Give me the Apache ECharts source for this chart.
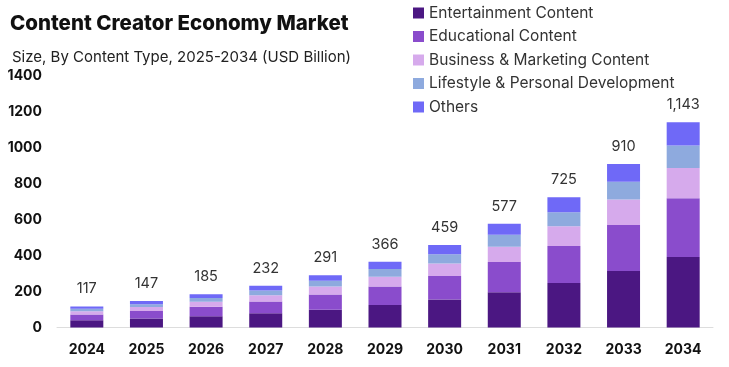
<!DOCTYPE html>
<html>
<head>
<meta charset="utf-8">
<script src="https://cdn.jsdelivr.net/npm/echarts@6/dist/echarts.min.js"></script>
<style>html,body{margin:0;padding:0;background:#fff}#c{width:729px;height:367px}</style>
</head>
<body>
<div id="c"></div>
<script>
var years = ['2024','2025','2026','2027','2028','2029','2030','2031','2032','2033','2034'];
var entertainment = [40, 50, 63, 79, 99, 125, 156, 196, 248, 314, 393];
var educational   = [33, 42, 53, 66, 85, 103, 131, 169, 205, 257, 327];
var business      = [18, 22, 28, 35, 44, 55, 69, 85, 111, 141, 168];
var lifestyle     = [13, 16, 20, 26, 32, 42, 52, 66, 77, 100, 125];
var others        = [13, 17, 21, 26, 31, 41, 51, 61, 84, 98, 130];
var totals        = [117, 147, 185, 232, 291, 366, 459, 577, 725, 910, 1143];
var seriesNames = ['Entertainment Content','Educational Content','Business & Marketing Content','Lifestyle & Personal Development','Others'];
var colors = ['#4b1782','#8a4ccc','#d6aaec','#8eaade','#6f69f7'];

var chart = echarts.init(document.getElementById('c'));
var font = 'Inter, "Open Sans", sans-serif';
var dataSets = [entertainment, educational, business, lifestyle, others];
var series = dataSets.map(function(d, i){
  var s = {
    name: seriesNames[i], type: 'bar', stack: 'total', data: d,
    barWidth: 33, itemStyle: {color: colors[i]}
  };
  if (i === dataSets.length - 1) {
    s.label = {
      show: true, position: 'top', distance: 10,
      fontFamily: font, fontSize: 14.5, color: '#333',
      formatter: function(p){ return totals[p.dataIndex].toLocaleString('en-US'); }
    };
  }
  return s;
});
chart.setOption({
  animation: false,
  backgroundColor: '#fff',
  title: [
    {text: 'Content Creator Economy Market', left: 5, top: 8,
     textStyle: {fontFamily: font, fontWeight: 800, fontSize: 20.5, color: '#111'}},
    {text: 'Size, By Content Type, 2025-2034 (USD Billion)', left: 7, top: 45,
     textStyle: {fontFamily: font, fontWeight: 'normal', fontSize: 15, color: '#222'}}
  ],
  legend: {
    orient: 'vertical', left: 408, top: 0, itemGap: 7.5,
    itemWidth: 11, itemHeight: 11, icon: 'rect',
    textStyle: {fontFamily: font, fontSize: 15.5, color: '#333'},
    data: seriesNames
  },
  grid: {left: 57, right: 16, top: 76, bottom: 39.5, containLabel: false},
  xAxis: {
    type: 'category', data: years,
    axisLine: {lineStyle: {color: '#ddd'}}, axisTick: {show: false},
    axisLabel: {fontFamily: font, fontWeight: 'bold', fontSize: 14, color: '#111', margin: 15}
  },
  yAxis: {
    type: 'value', min: 0, max: 1400, interval: 200,
    splitLine: {show: false}, axisLine: {show: false}, axisTick: {show: false},
    axisLabel: {fontFamily: font, fontWeight: 'bold', fontSize: 14, color: '#111', margin: 15,
      formatter: function(v){ return String(v); }}
  },
  series: series
});
</script>
</body>
</html>
